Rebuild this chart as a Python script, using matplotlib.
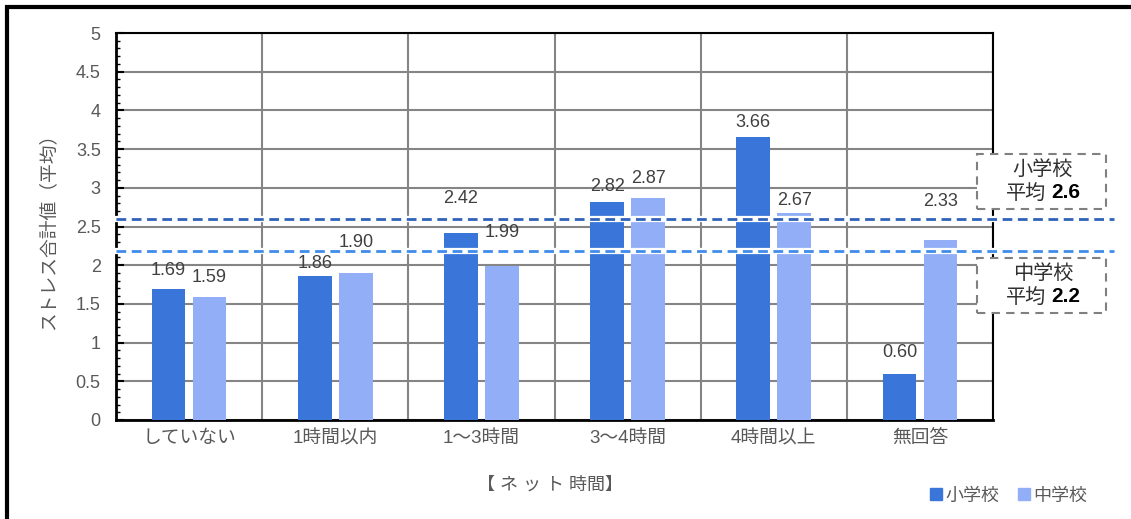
import numpy as np
import matplotlib
matplotlib.use("Agg")
import matplotlib.pyplot as plt
from matplotlib.patches import Rectangle
from matplotlib.lines import Line2D

plt.rcParams['font.family'] = ['Liberation Sans', 'Noto Sans CJK JP', 'DejaVu Sans']

# データ
categories = ["していない", "1時間以内", "1～3時間", "3～4時間", "4時間以上", "無回答"]
elementary = [1.69, 1.86, 2.42, 2.82, 3.66, 0.60]
junior = [1.59, 1.90, 1.99, 2.87, 2.67, 2.33]
mean_elementary = 2.6
mean_junior = 2.18

# ラベル位置の微調整 (pixel, 棒の上端からラベル中心まで)
offs_el = [19, 13, 34, 15, 14, 21]
offs_jr = [19, 30, 33, 19, 13, 38]

c_el = "#3A75D9"
c_jr = "#91AEF6"
gray = "#595959"

fig = plt.figure(figsize=(11.31, 5.19), dpi=100)
ax = fig.add_axes([116/1131, 1-420/519, (993-116)/1131, (420-33)/519])

x = np.arange(len(categories))
w = 0.23
ax.bar(x - 0.14, elementary, w, color=c_el, zorder=3)
ax.bar(x + 0.14, junior, w, color=c_jr, zorder=3)

for xi, v, o in zip(x, elementary, offs_el):
    ax.annotate(f"{v:.2f}", (xi - 0.14, v), xytext=(0, o), textcoords="offset pixels",
                ha="center", va="center", fontsize=13, color="#404040", zorder=5)
for xi, v, o in zip(x, junior, offs_jr):
    ax.annotate(f"{v:.2f}", (xi + 0.14, v), xytext=(0, o), textcoords="offset pixels",
                ha="center", va="center", fontsize=13, color="#404040", zorder=5)

# 平均線
xend = (1113 - 116) / 146 - 0.5
for m, c in [(mean_elementary, "#2F62B8"), (mean_junior, "#3F8CEB")]:
    ax.plot([-0.5, xend], [m, m], color="white", lw=4.5, clip_on=False, zorder=4)
    ax.plot([-0.5, xend], [m, m], color=c, lw=2, ls=(0, (3.5, 2)), clip_on=False, zorder=4.5)

ax.set_xlim(-0.5, len(categories) - 0.5)
ax.set_ylim(0, 5)
ax.set_yticks(np.arange(0, 5.01, 0.5))
ax.set_yticklabels(["0", "0.5", "1", "1.5", "2", "2.5", "3", "3.5", "4", "4.5", "5"])
ax.set_yticks(np.arange(0, 5.01, 0.1), minor=True)
ax.set_xticks(x)
ax.set_xticklabels(categories)
ax.set_xticks(np.arange(-0.5, len(categories), 1), minor=True)

ax.tick_params(axis="y", which="major", direction="in", length=6, width=1.5, labelsize=13,
               labelcolor=gray, pad=11)
ax.tick_params(axis="y", which="minor", direction="in", length=3, width=1)
ax.tick_params(axis="x", which="both", length=0, labelsize=13.5, labelcolor=gray, pad=7)

ax.grid(True, which="major", axis="y", color="#858585", lw=1.5, zorder=0)
ax.grid(True, which="minor", axis="x", color="#858585", lw=1.5, zorder=0)
ax.grid(False, which="minor", axis="y")
ax.set_axisbelow(True)

ax.spines["left"].set_linewidth(2)
ax.spines["bottom"].set_linewidth(2)
ax.spines["top"].set_linewidth(1.5)
ax.spines["right"].set_linewidth(1.5)

ax.set_ylabel("ストレス合計値（平均）", fontsize=13.5, color=gray)
ax.yaxis.set_label_coords((57 - 116) / 877, 0.5)
fig.text(550/1131, 1-485/519, "【 ネ ッ ト 時間】", ha="center", va="center", fontsize=13, color=gray)

# 平均のボックス
for (y0, y1), name, m in [((154, 209), "小学校", "2.6"), ((258, 313), "中学校", "2.2")]:
    fig.patches.append(Rectangle((977/1131, 1-y1/519), (1106-977)/1131, (y1-y0)/519,
                                 transform=fig.transFigure, facecolor="white",
                                 edgecolor="#808080", lw=1.5, ls=(0, (4, 3)), zorder=10))
    fig.text(1043/1131, 1-(y0+15)/519, name, ha="center", va="center", fontsize=14.5,
             color="#303030", zorder=11)
    fig.text(1046/1131, 1-(y0+39)/519, "平均", ha="right", va="center", fontsize=14.5,
             color="#303030", zorder=11)
    fig.text(1051/1131, 1-(y0+39)/519, m, ha="left", va="center", fontsize=15, color="black",
             fontweight="bold", zorder=11)

# 凡例
handles = [Line2D([], [], marker="s", ls="", color=c_el, markersize=8),
           Line2D([], [], marker="s", ls="", color=c_jr, markersize=8)]
fig.legend(handles, ["小学校", "中学校"], loc="center", bbox_to_anchor=(1008/1131, 1-496/519),
           ncol=2, frameon=False, fontsize=13, labelcolor=gray, handletextpad=0.1,
           columnspacing=1.0, handlelength=0.8)

# 外枠
fig.patches.append(Rectangle((7/1131, -0.1), 1.2, 1-7/519+0.1, transform=fig.transFigure,
                             fill=False, edgecolor="black", lw=3, zorder=20))

fig.savefig("out.png", dpi=100)
